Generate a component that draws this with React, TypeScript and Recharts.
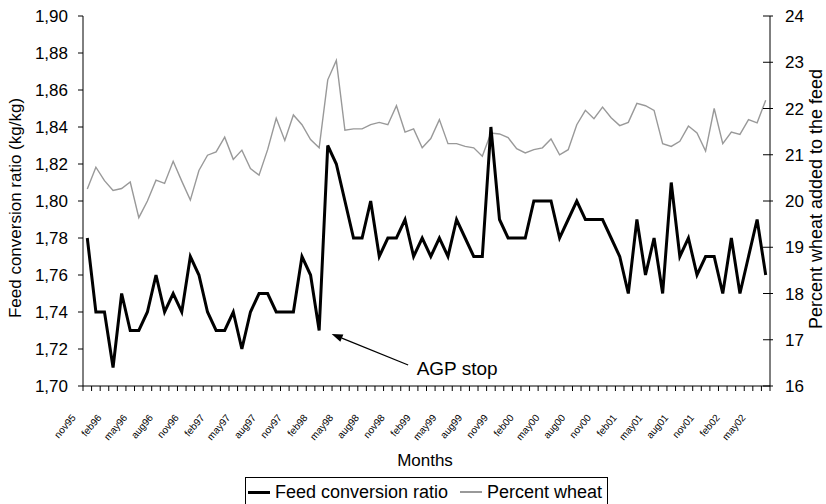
import React from 'react';
import { ComposedChart, Line, XAxis, YAxis, Legend, ReferenceDot } from 'recharts';

const months = [
  'nov95', 'dec95',
  'jan96', 'feb96', 'mar96', 'apr96', 'may96', 'jun96', 'jul96', 'aug96', 'sep96', 'oct96', 'nov96', 'dec96',
  'jan97', 'feb97', 'mar97', 'apr97', 'may97', 'jun97', 'jul97', 'aug97', 'sep97', 'oct97', 'nov97', 'dec97',
  'jan98', 'feb98', 'mar98', 'apr98', 'may98', 'jun98', 'jul98', 'aug98', 'sep98', 'oct98', 'nov98', 'dec98',
  'jan99', 'feb99', 'mar99', 'apr99', 'may99', 'jun99', 'jul99', 'aug99', 'sep99', 'oct99', 'nov99', 'dec99',
  'jan00', 'feb00', 'mar00', 'apr00', 'may00', 'jun00', 'jul00', 'aug00', 'sep00', 'oct00', 'nov00', 'dec00',
  'jan01', 'feb01', 'mar01', 'apr01', 'may01', 'jun01', 'jul01', 'aug01', 'sep01', 'oct01', 'nov01', 'dec01',
  'jan02', 'feb02', 'mar02', 'apr02', 'may02', 'jun02',
];

const feedConversion = [
  1.78, 1.74, 1.74, 1.71, 1.75, 1.73, 1.73, 1.74, 1.76, 1.74,
  1.75, 1.74, 1.77, 1.76, 1.74, 1.73, 1.73, 1.74, 1.72, 1.74,
  1.75, 1.75, 1.74, 1.74, 1.74, 1.77, 1.76, 1.73,
  1.83, 1.82, 1.80, 1.78, 1.78, 1.80, 1.77, 1.78, 1.78, 1.79,
  1.77, 1.78, 1.77, 1.78, 1.77, 1.79, 1.78, 1.77, 1.77, 1.84,
  1.79, 1.78, 1.78, 1.78, 1.80, 1.80, 1.80, 1.78,
  1.79, 1.80, 1.79, 1.79, 1.79, 1.78, 1.77, 1.75, 1.79, 1.76,
  1.78, 1.75, 1.81, 1.77, 1.78, 1.76, 1.77, 1.77, 1.75, 1.78,
  1.75, 1.77, 1.79, 1.76,
];

const percentWheat = [
  20.26, 20.73, 20.44, 20.23, 20.27, 20.41, 19.64, 20.0, 20.45, 20.38,
  20.86, 20.43, 20.02, 20.66, 20.99, 21.06, 21.38, 20.9, 21.1, 20.7,
  20.56, 21.11, 21.79, 21.31, 21.86, 21.65, 21.33, 21.15,
  22.62, 23.04, 21.53, 21.56, 21.56, 21.65, 21.7, 21.65, 22.06, 21.49,
  21.56, 21.15, 21.35, 21.76, 21.24, 21.24, 21.18, 21.15, 20.97, 21.47,
  21.45, 21.37, 21.13, 21.04, 21.11, 21.15, 21.34, 21.0,
  21.11, 21.65, 21.96, 21.78, 22.03, 21.8, 21.63, 21.7, 22.11, 22.06,
  21.96, 21.24, 21.18, 21.29, 21.62, 21.47, 21.08, 22.0, 21.24, 21.49,
  21.44, 21.76, 21.69, 22.18,
];

const leftTicks = [1.7, 1.72, 1.74, 1.76, 1.78, 1.8, 1.82, 1.84, 1.86, 1.88, 1.9];
const rightTicks = [16, 17, 18, 19, 20, 21, 22, 23, 24];
const labelStep = 3;
const agpMonth = 'feb98';
const agpText = 'AGP stop';

const seriesNames = { fcr: 'Feed conversion ratio', wheat: 'Percent wheat' };

const data = months.map((m, i) => ({ month: m, fcr: feedConversion[i], wheat: percentWheat[i] }));

const FONT = '"Liberation Sans", Arial, Helvetica, sans-serif';
const PLOT_W = 687;

function XTick(props: any) {
  const { x, y, payload, index } = props;
  const w = typeof props.width === 'number' && props.width > 100 ? props.width : PLOT_W;
  const band = w / months.length;
  const lx = x - band / 2;
  const rx = x + band / 2;
  const tx = x - 11;
  const ty = y + 32;
  return (
    <g>
      <line x1={lx} y1={y} x2={lx} y2={y + 5} stroke="#000" strokeWidth={1} />
      {index === months.length - 1 && <line x1={rx} y1={y} x2={rx} y2={y + 5} stroke="#000" strokeWidth={1} />}
      {index % labelStep === 0 && (
        <text
          x={tx}
          y={ty}
          transform={`rotate(-50 ${tx} ${ty})`}
          textAnchor="end"
          fontSize={10}
          fontFamily={FONT}
          fill="#000"
        >
          {payload.value}
        </text>
      )}
    </g>
  );
}

function RightTick(props: any) {
  const { x, y, payload } = props;
  const ax = x - 3 - 12;
  return (
    <g>
      <line x1={ax - 7} y1={y} x2={ax + 3} y2={y} stroke="#000" strokeWidth={1} />
      <text x={x} y={y} dy="0.355em" textAnchor="start" fontSize={17} fontFamily={FONT} fill="#000">
        {payload.value}
      </text>
    </g>
  );
}

function AgpArrow(props: any) {
  const { cx, cy } = props;
  if (typeof cx !== 'number' || typeof cy !== 'number') return null;
  const tipX = cx + 12.5;
  const tipY = cy + 3.5;
  const tailX = cx + 89;
  const tailY = cy + 34.5;
  const dx = tipX - tailX;
  const dy = tipY - tailY;
  const len = Math.sqrt(dx * dx + dy * dy);
  const ux = dx / len;
  const uy = dy / len;
  const head = 11;
  const half = 4;
  const bx = tipX - ux * head;
  const by = tipY - uy * head;
  const px = -uy;
  const py = ux;
  return (
    <g>
      <line x1={tailX} y1={tailY} x2={bx} y2={by} stroke="#000" strokeWidth={1.3} />
      <polygon
        points={`${tipX},${tipY} ${bx + px * half},${by + py * half} ${bx - px * half},${by - py * half}`}
        fill="#000"
      />
      <text x={cx + 97.5} y={cy + 44.5} fontSize={19} fontFamily={FONT} fill="#000">
        {agpText}
      </text>
    </g>
  );
}

function LegendBox() {
  return (
    <div style={{ width: 826, height: 27, display: 'flex', justifyContent: 'center', paddingLeft: 27, boxSizing: 'border-box' }}>
      <div
        style={{
          boxSizing: 'border-box',
          height: 30,
          border: '1px solid #000',
          background: '#fff',
          display: 'flex',
          alignItems: 'center',
          paddingLeft: 2,
          paddingRight: 5,
          fontFamily: FONT,
          fontSize: 18,
          color: '#000',
          whiteSpace: 'nowrap',
        }}
      >
        <span style={{ display: 'inline-block', width: 22, height: 3, background: '#000', marginRight: 5 }} />
        <span>{seriesNames.fcr}</span>
        <span style={{ display: 'inline-block', width: 22, height: 1.5, background: '#999', marginLeft: 12, marginRight: 5 }} />
        <span>{seriesNames.wheat}</span>
      </div>
    </div>
  );
}

const fmtLeft = (v: number) => v.toFixed(2).replace('.', ',');

export default function App() {
  const agpIndex = months.indexOf(agpMonth);
  const agpValue = feedConversion[agpIndex];
  return (
    <div style={{ position: 'absolute', left: 0, top: 0, width: 826, height: 504, background: '#fff', fontFamily: FONT }}>
      <ComposedChart width={826} height={504} data={data} margin={{ top: 16, right: 0, bottom: 0, left: 0 }}>
        <XAxis
          dataKey="month"
          scale="band"
          interval={0}
          height={91}
          tickSize={0}
          tickMargin={0}
          tickLine={false}
          axisLine={{ stroke: '#000', strokeWidth: 1 }}
          tick={<XTick />}
          label={(p: any) => {
            const vb = p.viewBox || { x: 83, y: 386, width: PLOT_W, height: 91 };
            return (
              <text x={vb.x + vb.width / 2 - 1.5} y={vb.y + 80} textAnchor="middle" fontSize={17} fontFamily={FONT} fill="#000">
                Months
              </text>
            );
          }}
        />
        <YAxis
          yAxisId="left"
          orientation="left"
          width={83}
          domain={[1.7, 1.9]}
          ticks={leftTicks}
          interval={0}
          allowDataOverflow
          tickSize={5}
          tickMargin={10}
          tickFormatter={fmtLeft}
          tick={{ fontSize: 17, fill: '#000', fontFamily: FONT }}
          tickLine={{ stroke: '#000', strokeWidth: 1 }}
          axisLine={{ stroke: '#000', strokeWidth: 1 }}
          label={(p: any) => {
            const vb = p.viewBox || { x: 0, y: 16, width: 83, height: 370 };
            const tx = vb.x + 20.5;
            const ty = vb.y + vb.height / 2 + 7;
            return (
              <text x={tx} y={ty} transform={`rotate(-90 ${tx} ${ty})`} textAnchor="middle" fontSize={17} fontFamily={FONT} fill="#000">
                Feed conversion ratio (kg/kg)
              </text>
            );
          }}
        />
        <YAxis
          yAxisId="right"
          orientation="right"
          width={56}
          domain={[16, 24]}
          ticks={rightTicks}
          interval={0}
          allowDataOverflow
          tickSize={3}
          tickMargin={12}
          tickLine={false}
          tick={<RightTick />}
          axisLine={{ stroke: '#000', strokeWidth: 1 }}
          label={(p: any) => {
            const vb = p.viewBox || { x: 770, y: 16, width: 56, height: 370 };
            const tx = vb.x + vb.width - 4;
            const ty = vb.y + vb.height / 2 - 2;
            return (
              <text x={tx} y={ty} transform={`rotate(-90 ${tx} ${ty})`} textAnchor="middle" fontSize={18} fontFamily={FONT} fill="#000">
                Percent wheat added to the feed
              </text>
            );
          }}
        />
        <Legend verticalAlign="bottom" content={() => <LegendBox />} />
        <Line
          yAxisId="right"
          type="linear"
          dataKey="wheat"
          name={seriesNames.wheat}
          stroke="#999"
          strokeWidth={1.4}
          dot={false}
          activeDot={false}
          isAnimationActive={false}
        />
        <Line
          yAxisId="left"
          type="linear"
          dataKey="fcr"
          name={seriesNames.fcr}
          stroke="#000"
          strokeWidth={3}
          dot={false}
          activeDot={false}
          isAnimationActive={false}
        />
        <ReferenceDot yAxisId="left" x={agpMonth} y={agpValue} r={0} ifOverflow="visible" shape={AgpArrow} />
      </ComposedChart>
    </div>
  );
}
